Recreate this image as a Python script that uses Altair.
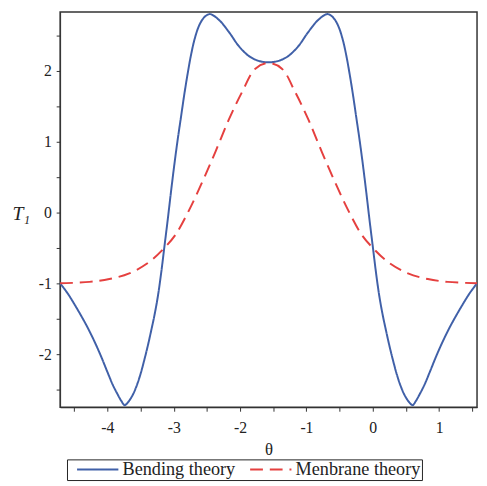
import altair as alt
import pandas as pd

# Bending theory (blue, solid)
bend_theta = [-4.712, -4.60, -4.50, -4.40, -4.30, -4.20, -4.10, -4.00, -3.92, -3.85,
              -3.79, -3.74, -3.69, -3.62, -3.56, -3.50, -3.44, -3.39, -3.34, -3.29,
              -3.24, -3.19, -3.14, -3.09, -3.04, -2.99, -2.94, -2.89, -2.84, -2.79,
              -2.74, -2.69, -2.63, -2.57, -2.51, -2.45, -2.32, -2.17, -2.02, -1.87,
              -1.72, -1.571,
              -1.42, -1.27, -1.12, -0.97, -0.82, -0.69, -0.63, -0.57, -0.51, -0.45,
              -0.40, -0.35, -0.30, -0.25, -0.20, -0.15, -0.10, -0.05, 0.00, 0.05,
              0.10, 0.15, 0.20, 0.25, 0.30, 0.36, 0.42, 0.48, 0.55, 0.60,
              0.65, 0.71, 0.78, 0.86, 0.96, 1.06, 1.16, 1.26, 1.36, 1.46, 1.571]
bend_T1 = [-1.00, -1.14, -1.29, -1.45, -1.62, -1.81, -2.02, -2.25, -2.43, -2.56,
           -2.66, -2.72, -2.68, -2.58, -2.45, -2.28, -2.07, -1.88, -1.67, -1.45,
           -1.19, -0.86, -0.48, -0.10, 0.30, 0.68, 1.03, 1.35, 1.67, 1.96,
           2.22, 2.43, 2.61, 2.72, 2.78, 2.80, 2.72, 2.55, 2.35, 2.21,
           2.14, 2.12,
           2.14, 2.21, 2.35, 2.55, 2.72, 2.80, 2.78, 2.72, 2.61, 2.43,
           2.22, 1.96, 1.67, 1.35, 1.03, 0.68, 0.30, -0.10, -0.48, -0.86,
           -1.19, -1.45, -1.67, -1.88, -2.07, -2.28, -2.45, -2.58, -2.68, -2.72,
           -2.66, -2.56, -2.43, -2.25, -2.02, -1.81, -1.62, -1.45, -1.29, -1.14, -1.00]

# Membrane theory (red, dashed)
memb_theta = [-4.712, -4.27, -3.97, -3.67, -3.37, -3.14, -2.97, -2.77, -2.57, -2.37,
              -2.17, -1.97, -1.77, -1.571, -1.37, -1.17, -0.97, -0.77, -0.57, -0.37,
              -0.17, 0.00, 0.23, 0.53, 0.83, 1.13, 1.571]
memb_T1 = [-1.00, -0.98, -0.94, -0.86, -0.70, -0.50, -0.31, 0.03, 0.43, 0.86,
           1.31, 1.70, 2.03, 2.11, 2.03, 1.70, 1.31, 0.86, 0.43, 0.03,
           -0.31, -0.50, -0.70, -0.86, -0.94, -0.98, -1.00]

series_names = ["Bending theory", "Menbrane theory"]
series_colors = ["#4060a8", "#e5403f"]

x_ticks = [-4.5, -4, -3.5, -3, -2.5, -2, -1.5, -1, -0.5, 0, 0.5, 1, 1.5]
y_ticks = [-2.5, -2, -1.5, -1, -0.5, 0, 0.5, 1, 1.5, 2, 2.5]

df = pd.concat([
    pd.DataFrame({"theta": bend_theta, "T1": bend_T1, "series": series_names[0], "order": range(len(bend_theta))}),
    pd.DataFrame({"theta": memb_theta, "T1": memb_T1, "series": series_names[1], "order": range(len(memb_theta))}),
])

FONT = "Liberation Serif"
label_expr = "datum.value % 1 === 0 ? '' + datum.value : ''"

legend_opts = dict(title=None, orient="none", legendX=7, legendY=455,
                   direction="horizontal", strokeColor="#222",
                   fillColor="white", padding=1, symbolType="M0,0H8.4",
                   symbolSize=100, symbolStrokeWidth=2,
                   labelFont=FONT, labelFontSize=18.5, labelColor="#222",
                   columnPadding=5, labelOffset=37)

chart = alt.Chart(df).mark_line(interpolate="catmull-rom", strokeWidth=2).encode(
    x=alt.X("theta:Q",
            scale=alt.Scale(domain=[-4.712, 1.571], nice=False, zero=False),
            axis=alt.Axis(title="θ", values=x_ticks, labelExpr=label_expr, grid=False,
                          tickSize=4, labelPadding=9, titlePadding=6,
                          labelFontSize=16, titleFontSize=17, titleFontWeight="normal",
                          labelFont=FONT, titleFont=FONT, labelOverlap=False,
                          domainColor="#333", tickColor="#333", labelColor="#222", titleColor="#222")),
    y=alt.Y("T1:Q",
            scale=alt.Scale(domain=[-2.75, 2.83], nice=False, zero=False),
            axis=alt.Axis(title="T₁", values=y_ticks, labelExpr=label_expr, grid=False,
                          tickSize=4, labelPadding=5,
                          labelFontSize=16, titleFontSize=20, titleFontWeight="normal",
                          titleFontStyle="italic", titleAngle=0, titleX=-40, titleY=205,
                          titleAlign="center", titleBaseline="middle",
                          labelFont=FONT, titleFont=FONT, labelOverlap=False,
                          domainColor="#333", tickColor="#333", labelColor="#222", titleColor="#222")),
    color=alt.Color("series:N",
                    scale=alt.Scale(domain=series_names, range=series_colors),
                    legend=alt.Legend(**legend_opts)),
    strokeDash=alt.StrokeDash("series:N",
                              scale=alt.Scale(domain=series_names, range=[[1, 0], [13, 7]]),
                              legend=alt.Legend(**legend_opts)),
    order="order:Q",
).properties(
    width=424, height=402,
    autosize=alt.AutoSizeParams(type="none"),
    padding={"left": 53, "top": 0, "right": 2, "bottom": 76},
).configure_view(stroke="#333", strokeWidth=1.5)

chart.save("out.html", embed_options={"renderer": "svg", "actions": False})
